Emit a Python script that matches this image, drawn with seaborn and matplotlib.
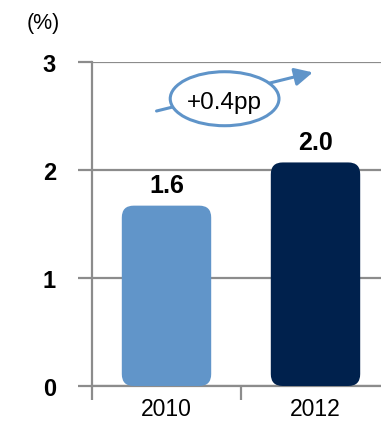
import matplotlib
matplotlib.use('Agg')
import matplotlib.pyplot as plt
import seaborn as sns
import pandas as pd
from matplotlib.patches import FancyBboxPatch, Ellipse

# chart data
years = ["2010", "2012"]
values = [1.67, 2.07]
value_labels = ["1.6", "2.0"]
bar_colors = ["#6195c9", "#00214d"]
change_label = "+0.4pp"

sns.set_theme(style="white")
plt.rcParams['font.family'] = ['Liberation Sans', 'DejaVu Sans']

df = pd.DataFrame({"year": years, "value": values})

fig = plt.figure(figsize=(3.81, 4.27), dpi=100)
ax = fig.add_axes([92 / 381, 40 / 427, 298 / 381, 324 / 427])

sns.barplot(data=df, x="year", y="value", hue="year", palette=bar_colors,
            width=0.6, saturation=1, legend=False, ax=ax, zorder=3)

# swap plain bars for rounded ones
for patch in list(ax.patches):
    x, y = patch.get_x(), patch.get_y()
    w, h = patch.get_width(), patch.get_height()
    color = patch.get_facecolor()
    patch.remove()
    rb = FancyBboxPatch((x, y), w, h,
                        boxstyle="round,pad=0,rounding_size=0.08",
                        mutation_aspect=1.38, facecolor=color,
                        edgecolor="none", zorder=3)
    ax.add_patch(rb)

ax.set_xlim(-0.5, 1.5)
ax.set_ylim(0, 3)
ax.set_yticks([0, 1, 2, 3])
ax.set_xlabel("")
ax.set_ylabel("")

grid_color = "#8c8c8c"
ax.yaxis.grid(True, color=grid_color, linewidth=1.6, zorder=0)
ax.set_axisbelow(True)
for side in ["top", "right"]:
    ax.spines[side].set_visible(False)
for side in ["left", "bottom"]:
    ax.spines[side].set_color(grid_color)
    ax.spines[side].set_linewidth(1.6)

ax.set_xticks([0, 1])
ax.set_xticklabels(years, fontsize=16.5, color="black")
ax.tick_params(axis="x", length=0, pad=8)
ax.set_xticks([-0.5, 0.5], minor=True)
ax.tick_params(axis="x", which="minor", direction="out", length=10,
               width=1.6, color=grid_color, bottom=True)
ax.tick_params(axis="y", direction="out", length=10, width=1.6,
               color=grid_color, left=True, pad=16)
for lab in ax.get_yticklabels():
    lab.set_fontsize(17)
    lab.set_fontweight("bold")
    lab.set_color("black")

# value labels above bars
for i, (v, lab) in enumerate(zip(values, value_labels)):
    ax.annotate(lab, (i, v), xytext=(0, 6), textcoords="offset points",
                ha="center", va="bottom", fontsize=18, fontweight="bold",
                color="black")

# change arrow and ellipse
arrow_color = "#5f94c9"
ax.annotate("", xy=(1.0, 2.91), xytext=(-0.085, 2.54),
            arrowprops=dict(arrowstyle="-|>,head_length=0.9,head_width=0.45",
                            color=arrow_color, lw=2.2), zorder=5)
ell = Ellipse((0.39, 2.66), 0.73, 0.50, facecolor="white",
              edgecolor=arrow_color, linewidth=2.2, zorder=6)
ax.add_patch(ell)
ax.text(0.39, 2.63, change_label, ha="center", va="center", fontsize=17.5,
        color="black", zorder=7)

fig.text(27 / 381, 1 - 24 / 427, "(%)", ha="left", va="center", fontsize=15.5,
         color="black")

fig.savefig("out.png", dpi=100)
